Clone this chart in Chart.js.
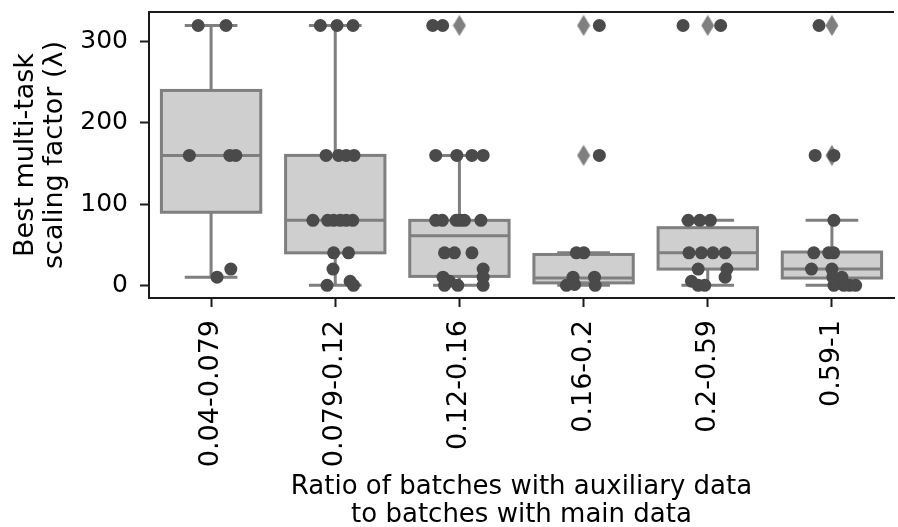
<!DOCTYPE html>
<html><head><meta charset="utf-8">
<script src="https://cdn.jsdelivr.net/npm/chart.js@4.4.0/dist/chart.umd.min.js"></script>
<style>
html,body{margin:0;padding:0;background:#fff;overflow:hidden;}
#wrap{position:relative;width:898px;height:527px;overflow:hidden;background:#fff;}
canvas{display:block;}
</style></head><body>
<div id="wrap"><canvas id="c" width="904" height="527"></canvas></div>
<script>
// ---- data ----
const categories = ['0.04-0.079', '0.079-0.12', '0.12-0.16', '0.16-0.2', '0.2-0.59', '0.59-1'];
const yTicks = [0, 100, 200, 300];
const yTitleLines = ['Best multi-task', 'scaling factor (\u03BB)'];
const xTitleLines = ['Ratio of batches with auxiliary data', 'to batches with main data'];

// strip-plot values per group, and their jitter (category units)
const g1Values = [320, 320, 160, 160, 160, 20, 10];
const g1Jitter = [-0.104, 0.12, -0.175, 0.151, 0.199, 0.159, 0.048];
const g2Values = [320, 320, 320, 160, 160, 160, 160, 80, 80, 80, 80, 80, 80, 40, 40, 20, 0, 5, 0];
const g2Jitter = [-0.12, 0.014, 0.143, -0.074, 0.027, 0.088, 0.151, -0.18, -0.061, -0.013, 0.04, 0.088, 0.141, -0.013, 0.107, -0.018, -0.066, 0.12, 0.147];
const g3Values = [320, 320, 160, 160, 160, 160, 80, 80, 80, 80, 80, 80, 40, 40, 40, 20, 10, 10, 5, 0, 0, 0];
const g3Jitter = [-0.215, -0.135, -0.191, -0.021, 0.101, 0.191, -0.191, -0.138, -0.026, 0.006, 0.04, 0.173, -0.12, -0.04, 0.101, 0.191, 0.191, -0.132, -0.08, -0.12, -0.013, 0.191];
const g4Values = [320, 160, 40, 40, 10, 0, 1, 10, 0];
const g4Jitter = [0.127, 0.127, -0.058, 0.002, -0.085, -0.138, -0.072, 0.088, 0.093];
const g5Values = [320, 320, 80, 80, 80, 40, 40, 40, 40, 20, 20, 10, 5, 0, 0];
const g5Jitter = [-0.199, 0.104, -0.157, -0.064, 0.021, -0.151, -0.051, 0.042, 0.14, -0.077, 0.154, 0.14, -0.131, -0.077, -0.024];
const g6Values = [320, 160, 160, 80, 40, 40, 40, 20, 20, 10, 10, 0, 0, 0, 0];
const g6Jitter = [-0.104, -0.135, 0.016, 0.016, -0.146, -0.026, 0.014, -0.165, 0.0, 0.008, 0.08, 0.016, 0.096, 0.143, 0.191];

// box statistics per group
const boxQ1 = [90, 40, 11, 3, 20, 9];
const boxMedian = [160, 80, 61, 9, 40, 20];
const boxQ3 = [240, 160, 80, 38, 71, 41];
const whiskerLow = [10, 0, 0, 0, 0, 0];
const whiskerHigh = [320, 320, 160, 40, 80, 80];
const fliers = [[], [], [320], [160, 320], [320], [160, 320]];

// ---- build datasets ----
const groupValues = [g1Values, g2Values, g3Values, g4Values, g5Values, g6Values];
const groupJitter = [g1Jitter, g2Jitter, g3Jitter, g4Jitter, g5Jitter, g6Jitter];
const stripPoints = [];
groupValues.forEach((vals, i) => vals.forEach((v, j) => stripPoints.push({x: i + groupJitter[i][j], y: v})));
const flierPoints = [];
fliers.forEach((f, i) => f.forEach(v => flierPoints.push({x: i, y: v})));

const diamond = document.createElement('canvas');
diamond.width = 14; diamond.height = 22;
(function(){const d = diamond.getContext('2d'); d.fillStyle = '#7f7f7f'; d.beginPath();
  d.moveTo(7, 0.5); d.lineTo(13.5, 11); d.lineTo(7, 21.5); d.lineTo(0.5, 11); d.closePath(); d.fill();})();

const BOX_HALF = 0.4, CAP_HALF = 0.2;
const EDGE = '#7f7f7f', FILL = '#cfcfcf', AXIS = '#1a1a1a';

const boxPlugin = {
  id: 'boxes',
  beforeDatasetsDraw(chart) {
    const {ctx, scales: {x, y}} = chart;
    ctx.save();
    ctx.strokeStyle = EDGE; ctx.lineWidth = 3; ctx.lineCap = 'square';
    categories.forEach((c, i) => {
      const xc = x.getPixelForValue(i);
      const xl = x.getPixelForValue(i - BOX_HALF), xr = x.getPixelForValue(i + BOX_HALF);
      const cl = x.getPixelForValue(i - CAP_HALF), cr = x.getPixelForValue(i + CAP_HALF);
      const y1 = y.getPixelForValue(boxQ1[i]), y3 = y.getPixelForValue(boxQ3[i]);
      const ym = y.getPixelForValue(boxMedian[i]);
      const ylo = y.getPixelForValue(whiskerLow[i]), yhi = y.getPixelForValue(whiskerHigh[i]);
      ctx.beginPath();
      ctx.moveTo(xc, y1); ctx.lineTo(xc, ylo);
      ctx.moveTo(xc, y3); ctx.lineTo(xc, yhi);
      ctx.moveTo(cl, ylo); ctx.lineTo(cr, ylo);
      ctx.moveTo(cl, yhi); ctx.lineTo(cr, yhi);
      ctx.stroke();
      ctx.fillStyle = FILL;
      ctx.fillRect(xl, y3, xr - xl, y1 - y3);
      ctx.lineJoin = 'miter';
      ctx.strokeRect(xl, y3, xr - xl, y1 - y3);
      ctx.beginPath(); ctx.lineCap = 'butt';
      ctx.moveTo(xl, ym); ctx.lineTo(xr, ym); ctx.stroke();
      ctx.lineCap = 'square';
    });
    ctx.restore();
  }
};

const framePlugin = {
  id: 'frame',
  afterDraw(chart) {
    const {ctx, chartArea: a} = chart;
    ctx.save();
    ctx.strokeStyle = AXIS; ctx.lineWidth = 2;
    ctx.beginPath(); ctx.moveTo(a.left - 1, a.top); ctx.lineTo(a.right, a.top); ctx.stroke();
    ctx.fillStyle = '#000';
    ctx.textAlign = 'center'; ctx.textBaseline = 'alphabetic';
    // x title (centred under the axes)
    ctx.font = '26px "DejaVu Sans"';
    const cx = (a.left + a.right) / 2;
    xTitleLines.forEach((t, k) => ctx.fillText(t, cx, 494 + k * 28));
    // y title
    ctx.font = '27px "DejaVu Sans"';
    const cy = (a.top + a.bottom) / 2;
    yTitleLines.forEach((t, k) => {
      ctx.save(); ctx.translate(33 + k * 28.5, cy); ctx.rotate(-Math.PI / 2); ctx.fillText(t, 0, 0); ctx.restore();
    });
    ctx.restore();
  }
};

new Chart(document.getElementById('c'), {
  type: 'scatter',
  data: {
    datasets: [
      {data: stripPoints, pointRadius: 6.5, pointHoverRadius: 6.5, pointBackgroundColor: '#4a4a4a', pointBorderWidth: 0},
      {data: flierPoints, pointStyle: diamond, pointRadius: 10, pointBorderWidth: 0}
    ]
  },
  options: {
    responsive: false, animation: false, events: [],
    layout: {padding: {top: 12, right: 1, left: 0, bottom: 0}},
    plugins: {legend: {display: false}, tooltip: {enabled: false}},
    scales: {
      x: {
        type: 'linear', min: -0.5, max: 5.5,
        afterBuildTicks: s => { s.ticks = categories.map((c, i) => ({value: i})); },
        afterFit: s => { s.height = 229; s.paddingLeft = 0; s.paddingRight = 0; },
        ticks: {callback: v => categories[v], autoSkip: false, minRotation: 90, maxRotation: 90,
          font: {family: 'DejaVu Sans', size: 27}, color: '#000', padding: 13},
        grid: {drawOnChartArea: false, drawTicks: true, tickLength: 9, tickWidth: 2, tickColor: AXIS},
        border: {display: true, color: AXIS, width: 2}
      },
      y: {
        type: 'linear', min: -15.6, max: 336.6,
        afterBuildTicks: s => { s.ticks = yTicks.map(v => ({value: v})); },
        afterFit: s => { s.width = 149; s.paddingTop = 0; s.paddingBottom = 0; },
        ticks: {font: {family: 'DejaVu Sans', size: 25}, color: '#000', padding: 12},
        grid: {drawOnChartArea: false, drawTicks: true, tickLength: 9, tickWidth: 2, tickColor: AXIS},
        border: {display: true, color: AXIS, width: 2}
      }
    }
  },
  plugins: [boxPlugin, framePlugin]
});
</script>
</body></html>
